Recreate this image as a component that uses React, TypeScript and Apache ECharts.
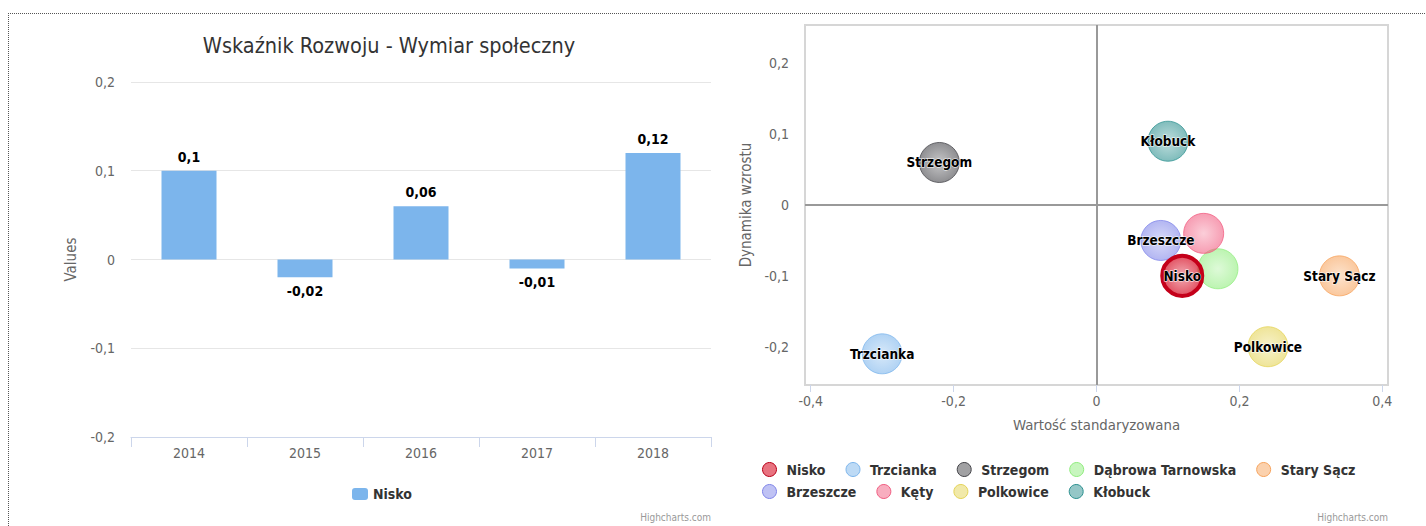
import React, { useEffect, useRef } from "react";
import * as echarts from "echarts";

const FONT = '"DejaVu Sans Condensed", "DejaVu Sans", sans-serif';

// Left chart data
const years = ["2014", "2015", "2016", "2017", "2018"];
const niskoValues = [0.1, -0.02, 0.06, -0.01, 0.12];
const barColor = "#7cb5ec";

// Right chart data
const towns = ["Nisko", "Trzcianka", "Strzegom", "Dąbrowa Tarnowska", "Stary Sącz", "Brzeszcze", "Kęty", "Polkowice", "Kłobuck"];
const townX = [0.12, -0.3, -0.22, 0.17, 0.34, 0.09, 0.15, 0.24, 0.1];
const townY = [-0.1, -0.21, 0.06, -0.09, -0.1, -0.05, -0.04, -0.2, 0.09];
const townColors = ["#d8162c", "#7cb5ec", "#434348", "#90ed7d", "#f7a35c", "#8085e9", "#f15c80", "#e4d354", "#2b908f"];
const townLabelShown = [true, true, true, false, true, true, false, true, true];
const xTicksRight = [-0.4, -0.2, 0, 0.2, 0.4];
const yTicksRight = [-0.2, -0.1, 0, 0.1, 0.2];
const legendRow1 = ["Nisko", "Trzcianka", "Strzegom", "Dąbrowa Tarnowska", "Stary Sącz"];
const legendRow2 = ["Brzeszcze", "Kęty", "Polkowice", "Kłobuck"];

const fmt = (v: number) => String(Math.round(v * 100) / 100).replace(".", ",");

function rgba(hex: string, a: number) {
  const n = parseInt(hex.slice(1), 16);
  return `rgba(${(n >> 16) & 255},${(n >> 8) & 255},${n & 255},${a})`;
}

export default function App() {
  const ref = useRef<HTMLDivElement>(null);
  useEffect(() => {
    if (!ref.current) return;
    const chart = echarts.init(ref.current, undefined, { renderer: "svg" });

    const bubbleSeries = towns.map((name, i) => {
      const c = townColors[i];
      const isNisko = name === "Nisko";
      const s: any = {
        type: "scatter",
        name,
        xAxisIndex: 1,
        yAxisIndex: 1,
        z: isNisko ? 4 : 2,
        symbol: "circle",
        symbolSize: 40,
        data: [[townX[i], townY[i]]],
        itemStyle: {
          color: {
            type: "radial",
            x: 0.5,
            y: 0.5,
            r: 0.5,
            colorStops: isNisko
              ? [
                  { offset: 0, color: rgba(c, 0.35) },
                  { offset: 1, color: rgba(c, 0.75) },
                ]
              : [
                  { offset: 0, color: rgba(c, 0.3) },
                  { offset: 1, color: rgba(c, 0.6) },
                ],
          },
          borderColor: isNisko ? "#c4001a" : rgba(c, 0.75),
          borderWidth: isNisko ? 4 : 1,
          opacity: 1,
        },
        label: {
          show: townLabelShown[i],
          position: "inside",
          formatter: "{a}",
          color: "#000",
          fontFamily: FONT,
          fontWeight: "bold",
          fontSize: 13.5,
          textBorderColor: "#fff",
          textBorderWidth: 1,
        },
        emphasis: { disabled: true },
      };
      if (name === "Trzcianka") {
        s.markLine = {
          silent: true,
          symbol: ["none", "none"],
          label: { show: false },
          lineStyle: { color: "#999", width: 2, type: "solid" },
          emphasis: { disabled: true },
          data: [{ xAxis: 0 }, { yAxis: 0 }],
        };
      }
      return s;
    });

    const townLegendItem = (n: string) => {
      const idx = towns.indexOf(n);
      const c = townColors[idx];
      return {
        name: n,
        itemStyle: {
          color: rgba(c, n === "Nisko" ? 0.6 : 0.5),
          borderColor: n === "Nisko" ? "#b80018" : c,
          borderWidth: 1,
        },
      };
    };
    const townLegendBase = {
      orient: "horizontal",
      left: 757,
      itemWidth: 24,
      itemHeight: 14,
      itemGap: 20,
      icon: "circle",
      selectedMode: false,
      textStyle: { fontFamily: FONT, fontWeight: "bold", fontSize: 14, color: "#333" },
    };

    const legends: any[] = [
      {
        left: 347,
        top: 482,
        itemWidth: 16,
        itemHeight: 12,
        icon: "roundRect",
        itemGap: 10,
        textStyle: { fontFamily: FONT, fontWeight: "bold", fontSize: 14, color: "#333" },
        data: [{ name: "Nisko (słupki)", itemStyle: { color: barColor } }],
        formatter: () => "Nisko",
        selectedMode: false,
      },
      { ...townLegendBase, top: 457, data: legendRow1.map(townLegendItem) },
      { ...townLegendBase, top: 479, data: legendRow2.map(townLegendItem) },
    ];

    const option: any = {
      animation: false,
      textStyle: { fontFamily: FONT },
      title: {
        text: "Wskaźnik Rozwoju - Wymiar społeczny",
        left: 384,
        top: 29,
        textAlign: "center",
        textStyle: { fontFamily: FONT, fontSize: 21.5, fontWeight: "normal", color: "#333" },
      },
      legend: legends,
      grid: [
        { left: 131, top: 82, width: 580, height: 355 },
        { left: 805, top: 25, width: 583, height: 360, show: true, borderColor: "#d6d6d6", borderWidth: 2, backgroundColor: "transparent" },
      ],
      xAxis: [
        {
          type: "category",
          gridIndex: 0,
          data: years,
          boundaryGap: true,
          axisLine: { onZero: false, lineStyle: { color: "#ccd6eb", width: 1 } },
          axisTick: { show: true, length: 10, alignWithLabel: false, lineStyle: { color: "#ccd6eb" } },
          axisLabel: { color: "#666", fontSize: 14, fontFamily: FONT, margin: 9 },
          splitLine: { show: false },
        },
        {
          type: "value",
          gridIndex: 1,
          min: -0.408,
          max: 0.408,
          name: "Wartość standaryzowana",
          nameLocation: "middle",
          nameGap: 32,
          nameTextStyle: { color: "#666", fontSize: 14.8, fontFamily: FONT },
          axisLine: { show: false, onZero: false },
          axisTick: { show: true, length: 7, customValues: xTicksRight, lineStyle: { color: "#ccd6eb" } },
          axisLabel: { color: "#666", fontSize: 14, fontFamily: FONT, margin: 9, customValues: xTicksRight, formatter: (v: number) => fmt(v) },
          splitLine: { show: false },
        },
      ],
      yAxis: [
        {
          type: "value",
          gridIndex: 0,
          min: -0.2,
          max: 0.2,
          interval: 0.1,
          name: "Values",
          nameLocation: "middle",
          nameGap: 53,
          nameTextStyle: { color: "#666", fontSize: 15, fontFamily: FONT },
          axisLine: { show: false },
          axisTick: { show: false },
          axisLabel: { color: "#666", fontSize: 14, fontFamily: FONT, margin: 16, formatter: (v: number) => fmt(v) },
          splitLine: { show: true, lineStyle: { color: "#e6e6e6", width: 1 } },
        },
        {
          type: "value",
          gridIndex: 1,
          min: -0.254,
          max: 0.254,
          name: "Dynamika wzrostu",
          nameLocation: "middle",
          nameGap: 52,
          nameTextStyle: { color: "#666", fontSize: 15, fontFamily: FONT },
          axisLine: { show: false },
          axisTick: { show: false },
          axisLabel: { color: "#666", fontSize: 14, fontFamily: FONT, margin: 16, customValues: yTicksRight, formatter: (v: number) => fmt(v) },
          splitLine: { show: false },
        },
      ],
      graphic: [
        { type: "text", right: 1426 - 711, top: 512, style: { text: "Highcharts.com", fontSize: 10, fill: "#999", fontFamily: FONT } },
        { type: "text", right: 1426 - 1388, top: 512, style: { text: "Highcharts.com", fontSize: 10, fill: "#999", fontFamily: FONT } },
      ],
      series: [
        {
          type: "bar",
          name: "Nisko (słupki)",
          xAxisIndex: 0,
          yAxisIndex: 0,
          barWidth: 55,
          itemStyle: { color: barColor },
          emphasis: { disabled: true },
          data: niskoValues.map((v) => ({
            value: v,
            label: { position: v >= 0 ? "top" : "bottom" },
          })),
          label: {
            show: true,
            distance: 7,
            color: "#000",
            fontFamily: FONT,
            fontWeight: "bold",
            fontSize: 14,
            textBorderColor: "#fff",
            textBorderWidth: 1,
            formatter: (p: any) => fmt(p.value),
          },
        },
        ...bubbleSeries,
      ],
    };
    chart.setOption(option);
    return () => chart.dispose();
  }, []);

  return (
    <div style={{ position: "fixed", left: 0, top: 0, width: 1426, height: 526, background: "#fff", overflow: "hidden" }}>
      <div ref={ref} style={{ position: "absolute", left: 0, top: 0, width: 1426, height: 526 }} />
      <div
        style={{
          position: "absolute",
          left: 8,
          top: 13,
          width: 1430,
          height: 600,
          borderLeft: "1px dotted #555",
          borderTop: "1px dotted #555",
          pointerEvents: "none",
        }}
      />
    </div>
  );
}
